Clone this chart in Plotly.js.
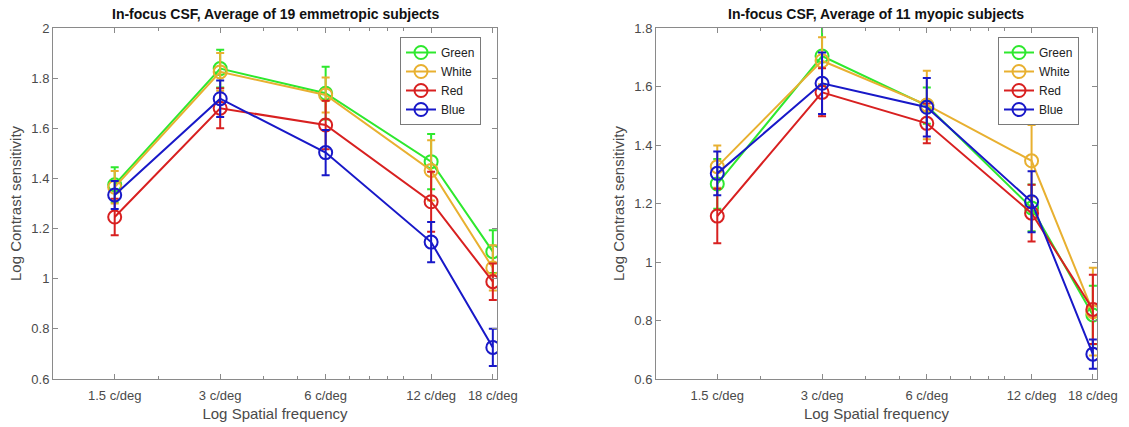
<!DOCTYPE html>
<html><head><meta charset="utf-8">
<script src="https://cdn.plot.ly/plotly-3.0.1.min.js"></script>
<style>html,body{margin:0;padding:0;background:#fff}#chart{width:1129px;height:427px}</style>
</head><body><div id="chart"></div>
<script>
const freqs = [1.5, 3, 6, 12, 18];
const tickLabels = ['1.5 c/deg', '3 c/deg', '6 c/deg', '12 c/deg', '18 c/deg'];
const seriesNames = ['Green', 'White', 'Red', 'Blue'];
const seriesColors = ['#2ee82e', '#e8b030', '#d82020', '#1818c8'];

// Emmetropic (left)
const emmGreen = [1.375, 1.838, 1.740, 1.467, 1.108];
const emmGreenErr = [0.07, 0.075, 0.105, 0.11, 0.085];
const emmWhite = [1.365, 1.825, 1.733, 1.432, 1.043];
const emmWhiteErr = [0.065, 0.075, 0.07, 0.12, 0.09];
const emmRed = [1.246, 1.680, 1.613, 1.307, 0.988];
const emmRedErr = [0.073, 0.08, 0.097, 0.12, 0.073];
const emmBlue = [1.334, 1.718, 1.503, 1.146, 0.726];
const emmBlueErr = [0.056, 0.073, 0.09, 0.08, 0.074];

// Myopic (right)
const myoGreen = [1.267, 1.704, 1.535, 1.185, 0.819];
const myoGreenErr = [0.085, 0.10, 0.062, 0.08, 0.10];
const myoWhite = [1.326, 1.688, 1.537, 1.346, 0.830];
const myoWhiteErr = [0.072, 0.08, 0.117, 0.122, 0.15];
const myoRed = [1.157, 1.580, 1.474, 1.167, 0.838];
const myoRedErr = [0.093, 0.082, 0.068, 0.097, 0.118];
const myoBlue = [1.303, 1.611, 1.529, 1.206, 0.685];
const myoBlueErr = [0.075, 0.105, 0.10, 0.104, 0.05];

const emmVals = [emmGreen, emmWhite, emmRed, emmBlue];
const emmErrs = [emmGreenErr, emmWhiteErr, emmRedErr, emmBlueErr];
const myoVals = [myoGreen, myoWhite, myoRed, myoBlue];
const myoErrs = [myoGreenErr, myoWhiteErr, myoRedErr, myoBlueErr];

const traces = [];
function addSet(vals, errs, xa, ya, leg) {
  for (let i = 0; i < seriesNames.length; i++) {
    traces.push({
      type: 'scatter', mode: 'lines+markers', name: seriesNames[i],
      x: freqs, y: vals[i], xaxis: xa, yaxis: ya, legend: leg,
      line: {color: seriesColors[i], width: 2},
      marker: {symbol: 'circle-open', size: 13, color: seriesColors[i], line: {width: 2, color: seriesColors[i]}},
      error_y: {type: 'data', array: errs[i], visible: true, color: seriesColors[i], thickness: 2, width: 4}
    });
  }
}
addSet(emmVals, emmErrs, 'x', 'y', 'legend');
addSet(myoVals, myoErrs, 'x2', 'y2', 'legend2');

const FONT = 'Liberation Sans, Arial, sans-serif';
const axCol = '#8a8a8a';
const tickFont = {family: FONT, size: 13, color: '#4a4a4a'};
function xax(dom) {
  return {
    domain: dom, type: 'log', range: [0, Math.log10(18.5)],
    tickmode: 'array', tickvals: freqs, ticktext: tickLabels,
    ticks: 'inside', ticklen: 5, tickcolor: axCol, tickwidth: 1,
    minor: {tickmode: 'array', tickvals: [2, 3, 4, 5, 7, 8, 9, 10], ticks: 'inside', ticklen: 3, tickcolor: axCol},
    showline: true, linecolor: axCol, linewidth: 1, mirror: 'allticks',
    showgrid: false, zeroline: false, tickfont: tickFont, ticklabelstandoff: 4,
    title: {text: 'Log Spatial frequency', font: {family: FONT, size: 15, color: '#4a4a4a'}, standoff: 6}
  };
}
function yax(dom, range, dtick, anchor) {
  return {
    domain: dom, range: range, dtick: dtick, tick0: 0.6, anchor: anchor,
    ticks: 'inside', ticklen: 5, tickcolor: axCol,
    showline: true, linecolor: axCol, linewidth: 1, mirror: 'allticks',
    showgrid: false, zeroline: false, tickfont: tickFont,
    title: {text: 'Log Contrast sensitivity', font: {family: FONT, size: 15, color: '#4a4a4a'}, standoff: 6}
  };
}
const yDom = [48/427, 399/427];
const legStyle = {
  bgcolor: '#fff', bordercolor: '#7a7a7a', borderwidth: 1,
  font: {family: FONT, size: 12, color: '#222'},
  xanchor: 'left', yanchor: 'top', tracegroupgap: 0, itemwidth: 30
};
const layout = {
  width: 1129, height: 427,
  margin: {l: 0, r: 0, t: 0, b: 0},
  paper_bgcolor: '#fff', plot_bgcolor: '#fff',
  showlegend: true,
  xaxis: Object.assign(xax([53/1129, 497/1129]), {anchor: 'y'}),
  yaxis: yax(yDom, [0.6, 2.0], 0.2, 'x'),
  xaxis2: Object.assign(xax([656/1129, 1097/1129]), {anchor: 'y2'}),
  yaxis2: yax(yDom, [0.6, 1.8], 0.2, 'x2'),
  legend: Object.assign({x: 400/1129, y: 1 - 37/427}, legStyle),
  legend2: Object.assign({x: 998/1129, y: 1 - 37/427}, legStyle),
  annotations: [
    {text: '<b>In-focus CSF, Average of 19 emmetropic subjects</b>', xref: 'paper', yref: 'paper',
     x: 275/1129, y: 1 - 14/427, xanchor: 'center', yanchor: 'middle', showarrow: false,
     font: {family: FONT, size: 14, color: '#111'}},
    {text: '<b>In-focus CSF, Average of 11 myopic subjects</b>', xref: 'paper', yref: 'paper',
     x: 876/1129, y: 1 - 14/427, xanchor: 'center', yanchor: 'middle', showarrow: false,
     font: {family: FONT, size: 14, color: '#111'}}
  ]
};
Plotly.newPlot('chart', traces, layout, {displayModeBar: false, staticPlot: true});
</script></body></html>
